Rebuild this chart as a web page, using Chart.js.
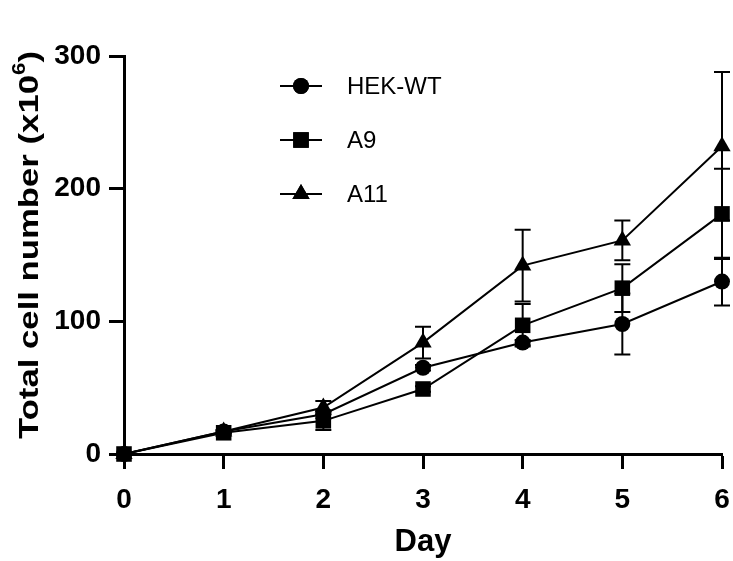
<!DOCTYPE html>
<html>
<head>
<meta charset="utf-8">
<title>Total cell number</title>
<script src="https://cdn.jsdelivr.net/npm/chart.js@4"></script>
<style>
    body { margin: 0; background: #fff; }
    #wrap { width: 733px; height: 561px; }
</style>
</head>
<body>
<div id="wrap"><canvas id="growthChart" width="733" height="561"></canvas></div>
<script>
// data (cells x10^6)
const days = [0, 1, 2, 3, 4, 5, 6];
const hekWT = [0, 17, 30, 65, 84, 98, 130];
const hekWTErr = [0, 1, 3, 2, 2, 23, 18];
const a9 = [0, 16, 25, 49, 97, 125, 181];
const a9Err = [0, 1, 7, 2, 16, 18, 34];
const a11 = [0, 17, 35, 84, 142, 161, 232];
const a11Err = [0, 1, 5, 12, 27, 15, 56];
const yTicks = [0, 100, 200, 300];
const xTicks = [0, 1, 2, 3, 4, 5, 6];

const seriesNames = ['HEK-WT', 'A9', 'A11'];
const seriesMarks = ['circle', 'rect', 'triangle'];
const seriesRadius = [8, 11, 10];

function toPoints(vals) {
    return days.map((d, i) => ({ x: d, y: vals[i] }));
}

// error bars, drawn under the markers
const errorBars = {
    id: 'errorBars',
    beforeDatasetsDraw(chart) {
        const ctx = chart.ctx;
        const xs = chart.scales.x, ys = chart.scales.y;
        const errs = [hekWTErr, a9Err, a11Err];
        const vals = [hekWT, a9, a11];
        ctx.save();
        ctx.strokeStyle = '#000';
        ctx.lineWidth = 2;
        vals.forEach((v, s) => {
            days.forEach((d, i) => {
                const e = errs[s][i];
                if (!e) return;
                const px = xs.getPixelForValue(d);
                const top = ys.getPixelForValue(v[i] + e);
                const bot = ys.getPixelForValue(Math.max(0, v[i] - e));
                ctx.beginPath();
                ctx.moveTo(px, top); ctx.lineTo(px, bot);
                ctx.moveTo(px - 8, top); ctx.lineTo(px + 8, top);
                ctx.moveTo(px - 8, bot); ctx.lineTo(px + 8, bot);
                ctx.stroke();
            });
        });
        ctx.restore();
    }
};

// y title with a real superscript, plus the in-plot legend
const extras = {
    id: 'extras',
    afterDraw(chart) {
        const ctx = chart.ctx;
        ctx.save();
        // y axis title (stretched along its length like the original figure)
        ctx.fillStyle = '#000';
        ctx.translate(30, 245);
        ctx.rotate(-Math.PI / 2);
        const big = 'bold 28px "Liberation Sans", Arial, sans-serif';
        const small = 'bold 18px "Liberation Sans", Arial, sans-serif';
        const partA = 'Total cell number (x10', sup = '6', partB = ')';
        ctx.font = big;
        const wA = ctx.measureText(partA).width, wB = ctx.measureText(partB).width;
        ctx.font = small;
        const wS = ctx.measureText(sup).width;
        const total = wA + wS + wB;
        ctx.scale(388 / total, 1);
        let x = -total / 2;
        ctx.textBaseline = 'middle';
        ctx.textAlign = 'left';
        ctx.font = big;
        ctx.fillText(partA, x, 0);
        x += wA;
        ctx.font = small;
        ctx.fillText(sup, x, -10);
        x += wS;
        ctx.font = big;
        ctx.fillText(partB, x, 0);
        ctx.restore();

        // legend
        ctx.save();
        ctx.strokeStyle = '#000';
        ctx.fillStyle = '#000';
        ctx.lineWidth = 2;
        ctx.font = '24px "Liberation Sans", Arial, sans-serif';
        ctx.textBaseline = 'middle';
        seriesNames.forEach((name, i) => {
            const y = 86 + i * 54;
            ctx.beginPath();
            ctx.moveTo(280, y); ctx.lineTo(322, y);
            ctx.stroke();
            Chart.helpers.drawPoint(ctx, {
                pointStyle: seriesMarks[i], radius: seriesRadius[i], rotation: 0, borderWidth: 0
            }, 301, y);
            ctx.fill();
            ctx.fillText(name, 347, y + 1);
        });
        ctx.restore();
    }
};

const tickFont = { family: '"Liberation Sans", Arial, sans-serif', size: 28, weight: 'bold' };

new Chart(document.getElementById('growthChart'), {
    type: 'line',
    data: {
        datasets: [hekWT, a9, a11].map((vals, i) => ({
            label: seriesNames[i],
            data: toPoints(vals),
            borderColor: '#000',
            backgroundColor: '#000',
            borderWidth: 2,
            pointStyle: seriesMarks[i],
            pointRadius: seriesRadius[i],
            pointBorderWidth: 0,
            pointBackgroundColor: '#000',
            tension: 0,
            clip: false
        }))
    },
    options: {
        responsive: false,
        animation: false,
        events: [],
        layout: { padding: { top: 56, right: 8, left: 0, bottom: 0 } },
        plugins: { legend: { display: false }, tooltip: { enabled: false } },
        scales: {
            x: {
                type: 'linear',
                min: 0, max: 6,
                afterBuildTicks: s => { s.ticks = xTicks.map(v => ({ value: v })); },
                afterFit: s => { s.height = 107; s.paddingLeft = 0; s.paddingRight = 0; },
                ticks: { color: '#000', font: tickFont, padding: 14, maxRotation: 0 },
                grid: { drawOnChartArea: false, drawTicks: true, tickLength: 15, tickWidth: 3, tickColor: '#000' },
                border: { color: '#000', width: 3 },
                title: {
                    display: true, text: 'Day', color: '#000',
                    font: { family: '"Liberation Sans", Arial, sans-serif', size: 31, weight: 'bold' },
                    padding: { top: 0, bottom: 0 }
                }
            },
            y: {
                min: 0, max: 300,
                afterBuildTicks: s => { s.ticks = yTicks.map(v => ({ value: v })); },
                afterFit: s => { s.width = 124; s.paddingTop = 0; s.paddingBottom = 0; },
                ticks: { color: '#000', font: tickFont, padding: 8 },
                grid: { drawOnChartArea: false, drawTicks: true, tickLength: 15, tickWidth: 3, tickColor: '#000' },
                border: { color: '#000', width: 3 }
            }
        }
    },
    plugins: [errorBars, extras]
});
</script>
</body>
</html>
